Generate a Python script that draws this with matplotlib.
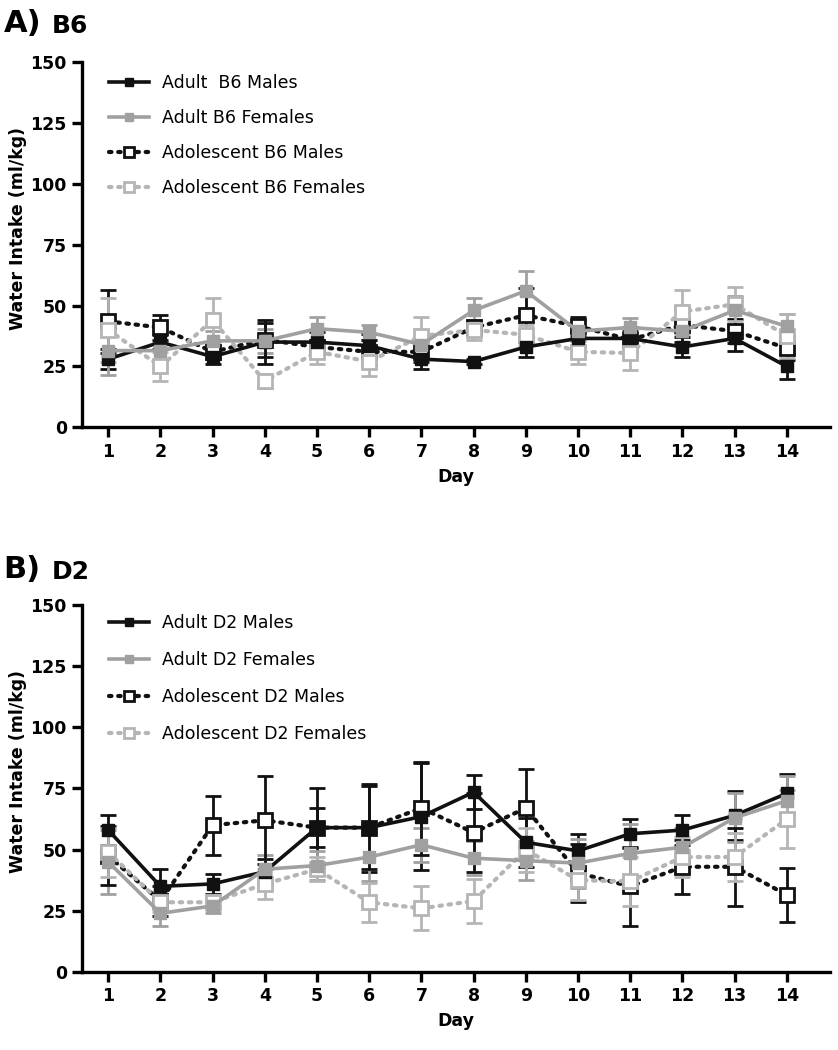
import numpy as np
import matplotlib.pyplot as plt

plt.rcParams['font.family'] = ['DejaVu Sans']

days = list(range(1, 15))

# Panel A: B6
b6_adult_m = [28, 35, 29, 35, 35, 33.5, 28, 27, 33, 36.5, 36.5, 33, 36.5, 25]
b6_adult_m_err = [4, 3, 3, 9, 4, 5, 4, 1, 4, 3, 3, 4, 5, 5]
b6_adult_f = [31.5, 31.5, 35.5, 35.5, 40.5, 39, 34, 48, 56, 39.5, 41, 39.5, 48, 41.5]
b6_adult_f_err = [10, 4, 4, 5, 5, 3, 3, 5, 8, 4, 4, 5, 6, 5]
b6_adol_m = [43.5, 41, 31, 36, 33, 31, 31, 41, 46, 41.5, 36, 42, 39.5, 32.5]
b6_adol_m_err = [13, 5, 3, 7, 3, 5, 4, 3, 11, 4, 5, 7, 5, 5]
b6_adol_f = [40, 25, 44, 19, 31, 27, 37.5, 40, 38, 31, 30.5, 47.5, 50.5, 37.5]
b6_adol_f_err = [13, 6, 9, 3, 5, 6, 8, 4, 4, 5, 7, 9, 7, 9]

# Panel B: D2
d2_adult_m = [58, 35, 36, 41, 59, 59, 63.5, 73.5, 53, 49.5, 56.5, 58, 64, 73]
d2_adult_m_err = [6, 7, 4, 5, 16, 18, 22, 7, 10, 7, 6, 6, 10, 8]
d2_adult_f = [45, 24, 27, 42, 43.5, 47, 52, 46.5, 45.5, 44.5, 48.5, 51, 63, 70]
d2_adult_f_err = [13, 5, 3, 6, 6, 10, 7, 7, 8, 10, 12, 8, 10, 10]
d2_adol_m = [47.5, 29, 60, 62, 59, 59, 67, 57, 67, 40.5, 35, 43, 43, 31.5]
d2_adol_m_err = [12, 6, 12, 18, 8, 17, 19, 16, 16, 12, 16, 11, 16, 11]
d2_adol_f = [49, 28.5, 28.5, 36, 42, 28.5, 26, 29, 50, 37.5, 37, 47, 47, 62.5]
d2_adol_f_err = [10, 4, 3, 6, 5, 8, 9, 9, 9, 8, 10, 8, 10, 12]

black = '#111111'
gray = '#a0a0a0'
lgray = '#b5b5b5'
dot = (0, (0.6, 1.6))


def draw_series(ax, y, err, color, open_marker, label):
    ax.errorbar(days, y, yerr=err, fmt='none', ecolor=color, elinewidth=2.0,
                capsize=6, capthick=2.0, zorder=2)
    if open_marker:
        ax.plot(days, y, color=color, linestyle=dot, linewidth=3.0,
                dash_capstyle='round', marker='s', markersize=10,
                markerfacecolor='white', markeredgecolor=color,
                markeredgewidth=2.0, label=label, zorder=3)
    else:
        ax.plot(days, y, color=color, linestyle='-', linewidth=2.6,
                marker='s', markersize=8, markerfacecolor=color,
                markeredgecolor=color, label=label, zorder=4)


def style_axis(ax):
    ax.set_xlim(0.5, 14.82)
    ax.set_ylim(0, 150)
    ax.set_yticks([0, 25, 50, 75, 100, 125, 150])
    ax.set_xticks(days)
    for s in ['top', 'right']:
        ax.spines[s].set_visible(False)
    for s in ['left', 'bottom']:
        ax.spines[s].set_linewidth(2.4)
    ax.tick_params(direction='out', length=7, width=2.4, labelsize=12.5, pad=4)
    for t in ax.get_xticklabels() + ax.get_yticklabels():
        t.set_fontweight('bold')
    ax.set_xlabel('Day', fontsize=12.5, fontweight='bold', labelpad=5)
    ax.set_ylabel('Water Intake (ml/kg)', fontsize=12.5, fontweight='bold')
    ax.yaxis.set_label_coords(-0.074, 0.545)


def add_legend(ax, spacing, top):
    ax.legend(loc='upper left', bbox_to_anchor=(0.015, top), frameon=False,
              fontsize=12.5, handlelength=2.3, handletextpad=0.75,
              labelspacing=spacing, markerscale=0.75)


fig = plt.figure(figsize=(8.38, 10.5), dpi=100)

axA = fig.add_axes([0.098, 0.593, 0.892, 0.348])
draw_series(axA, b6_adult_m, b6_adult_m_err, black, False, 'Adult  B6 Males')
draw_series(axA, b6_adult_f, b6_adult_f_err, gray, False, 'Adult B6 Females')
draw_series(axA, b6_adol_m, b6_adol_m_err, black, True, 'Adolescent B6 Males')
draw_series(axA, b6_adol_f, b6_adol_f_err, lgray, True, 'Adolescent B6 Females')
style_axis(axA)
add_legend(axA, 0.98, 1.01)

axB = fig.add_axes([0.098, 0.0743, 0.892, 0.3495])
draw_series(axB, d2_adult_m, d2_adult_m_err, black, False, 'Adult D2 Males')
draw_series(axB, d2_adult_f, d2_adult_f_err, gray, False, 'Adult D2 Females')
draw_series(axB, d2_adol_m, d2_adol_m_err, black, True, 'Adolescent D2 Males')
draw_series(axB, d2_adol_f, d2_adol_f_err, lgray, True, 'Adolescent D2 Females')
style_axis(axB)
add_legend(axB, 1.1, 1.018)

fig.text(0.004, 0.978, 'A)', fontsize=22, fontweight='bold', va='center')
fig.text(0.062, 0.975, 'B6', fontsize=18, fontweight='bold', va='center')
fig.text(0.004, 0.458, 'B)', fontsize=22, fontweight='bold', va='center')
fig.text(0.062, 0.455, 'D2', fontsize=18, fontweight='bold', va='center')

fig.savefig('out.png', dpi=100)
